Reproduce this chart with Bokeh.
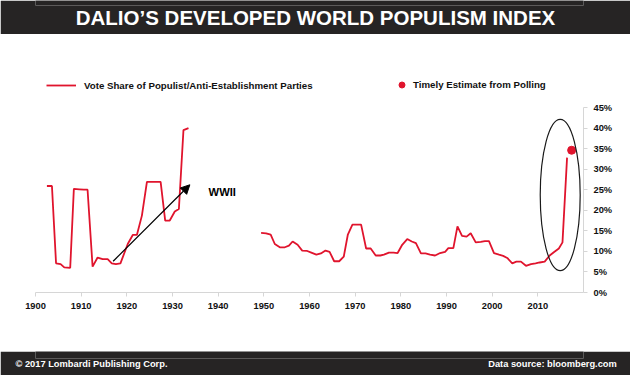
import numpy as np
from bokeh.plotting import figure
from bokeh.layouts import column
from bokeh.models import (Range1d, FixedTicker, PrintfTickFormatter, Legend, LegendItem,
                          Label, Arrow, NormalHead, LinearAxis)
from bokeh.embed import file_html
from bokeh.resources import INLINE

# ---------------- data ----------------
years_early = [1902.5, 1903.6, 1904.5, 1905.5, 1906.3, 1907.6, 1908.4, 1909.6, 1910.6, 1911.4,
               1912.5, 1913.6, 1914.7, 1915.8, 1916.7, 1917.6, 1918.6, 1920.2, 1921.3, 1922.2,
               1923.3, 1924.4, 1927.4, 1928.4, 1929.4, 1930.5, 1931.4, 1932.4, 1933.5]
share_early = [25.9, 25.9, 7.1, 6.9, 6.1, 6.0, 25.2, 25.1, 25.0, 25.0,
               6.3, 8.5, 8.1, 8.1, 7.1, 6.9, 7.1, 11.8, 14.0, 14.0,
               18.7, 26.9, 26.9, 17.5, 17.5, 19.7, 20.3, 39.5, 40.0]

years_post = [1949.4, 1950.5, 1951.5, 1952.4, 1953.5, 1954.6, 1955.5, 1956.3, 1957.4, 1958.4,
              1959.5, 1960.4, 1961.5, 1962.5, 1963.5, 1964.4, 1965.4, 1966.5, 1967.5, 1968.4,
              1969.4, 1971.3, 1972.4, 1973.4, 1974.5, 1975.5, 1976.3, 1977.4, 1978.4, 1979.3,
              1980.3, 1981.4, 1982.4, 1983.3, 1984.4, 1985.4, 1986.4, 1987.5, 1988.6, 1989.7,
              1990.4, 1991.5, 1992.4, 1993.4, 1994.4, 1995.3, 1996.4, 1997.5, 1998.4, 1999.3,
              2000.4, 2001.5, 2002.4, 2003.3, 2004.4, 2005.3, 2006.3, 2007.4, 2008.5, 2009.5,
              2010.4, 2011.5, 2012.6, 2013.5, 2014.6, 2015.4, 2016.4]
share_post = [14.5, 14.4, 14.1, 11.8, 11.0, 11.0, 11.4, 12.4, 11.6, 10.2,
              10.1, 9.7, 9.2, 9.5, 10.2, 9.9, 7.6, 7.6, 8.7, 14.1,
              16.5, 16.5, 10.7, 10.7, 9.0, 9.0, 9.2, 9.7, 9.7, 9.6,
              11.6, 13.0, 12.4, 12.0, 9.5, 9.5, 9.2, 9.0, 9.6, 9.9,
              10.8, 10.8, 16.1, 13.8, 13.6, 14.4, 12.2, 12.3, 12.5, 12.5,
              9.6, 9.2, 8.9, 8.4, 7.1, 7.5, 7.5, 6.5, 6.9, 7.1,
              7.3, 7.5, 9.0, 9.8, 10.7, 12.2, 32.8]

poll_year = [2017.4]
poll_share = [34.6]

x_ticks = [1900, 1910, 1920, 1930, 1940, 1950, 1960, 1970, 1980, 1990, 2000, 2010]
y_ticks = [0, 5, 10, 15, 20, 25, 30, 35, 40, 45]

title_text = "DALIO\u2019S DEVELOPED WORLD POPULISM INDEX"
legend_line_text = "Vote Share of Populist/Anti-Establishment Parties"
legend_dot_text = "Timely Estimate from Polling"
annot_text = "WWII"
footer_left = "\u00a9 2017 Lombardi Publishing Corp."
footer_right = "Data source: bloomberg.com"

# annotation geometry (data units)
arrow_start = (1917.0, 7.6)
arrow_end = (1933.8, 26.2)
annot_pos = (1937.9, 24.4)
ellipse_center = (2014.9, 23.7)
ellipse_size = (8.75, 36.8)

RED = "#e0142d"
DARK = "#262424"
SANS = "Liberation Sans"

W = 630
FL, FR = 35, 47          # frame left / right borders shared by all stacked panels


def band(height, fill, bottom=0):
    fig = figure(width=W, height=height, x_range=Range1d(FL, W - FR), y_range=Range1d(0, 1),
                 x_axis_type=None, y_axis_type=None, toolbar_location=None,
                 output_backend="svg", min_border_left=FL, min_border_right=FR,
                 min_border_top=0, min_border_bottom=bottom)
    fig.background_fill_color = fill
    fig.border_fill_color = fill
    fig.outline_line_color = None
    fig.grid.visible = False
    return fig


def text_axis(fig, ticks, texts, size):
    ax = LinearAxis(ticker=FixedTicker(ticks=ticks),
                    major_label_overrides={tk: tx for tk, tx in zip(ticks, texts)})
    ax.axis_line_color = None
    ax.major_tick_line_color = None
    ax.minor_tick_line_color = None
    ax.major_tick_out = 0
    ax.major_tick_in = 0
    ax.major_label_standoff = 0
    ax.major_label_text_color = "white"
    ax.major_label_text_font = SANS
    ax.major_label_text_font_style = "bold"
    ax.major_label_text_font_size = size
    fig.add_layout(ax, "below")


# ---------------- title band ----------------
t = band(34, DARK, bottom=29)
text_axis(t, [315], [title_text], "20.5px")

# ---------------- legend band ----------------
lg = band(65, "white")
lg.y_range = Range1d(0, 65)
# legend proxies (their data lie outside this band's range, so only the legend shows them)
leg_line = lg.line(x=poll_year, y=poll_share, line_color=RED, line_width=1.8)
leg_dot = lg.scatter(x=poll_year, y=poll_share, size=8, color=RED)
leg_common = dict(padding=0, spacing=0, border_line_color=None, background_fill_alpha=0,
                  label_text_font=SANS, label_text_font_style="bold",
                  label_text_font_size="9.7px", label_text_color="#111111")
lg.add_layout(Legend(items=[LegendItem(label=legend_line_text, renderers=[leg_line])],
                     location=(11, 8), glyph_width=30, glyph_height=12, label_height=12,
                     label_standoff=8, **leg_common))
lg.add_layout(Legend(items=[LegendItem(label=legend_dot_text, renderers=[leg_dot])],
                     location=(359, 7), glyph_width=15, glyph_height=15, label_height=15,
                     label_standoff=4, **leg_common))

# ---------------- main chart ----------------
p = figure(width=W, height=252, x_range=Range1d(1900, 2020), y_range=Range1d(0, 45),
           toolbar_location=None, output_backend="svg", y_axis_location="right",
           min_border_left=FL, min_border_right=FR, min_border_top=8, min_border_bottom=59)
p.outline_line_color = None
p.grid.visible = False

x_all = years_early + [np.nan] + years_post
y_all = share_early + [np.nan] + share_post
p.line(x_all, y_all, line_color=RED, line_width=1.8)
p.scatter(poll_year, poll_share, size=8, color=RED)

p.ellipse(x=[ellipse_center[0]], y=[ellipse_center[1]], width=ellipse_size[0],
          height=ellipse_size[1], fill_color=None, line_color="#1a1a1a", line_width=1.2)

p.add_layout(Arrow(end=NormalHead(size=9, fill_color="black", line_color="black"),
                   x_start=arrow_start[0], y_start=arrow_start[1],
                   x_end=arrow_end[0], y_end=arrow_end[1],
                   line_color="black", line_width=1.2))
p.add_layout(Label(x=annot_pos[0], y=annot_pos[1], text=annot_text, text_font=SANS,
                   text_font_style="bold", text_font_size="11.2px", text_color="black",
                   text_baseline="alphabetic"))

for ax in (p.xaxis[0], p.yaxis[0]):
    ax.axis_line_color = "#d6d6d6"
    ax.major_tick_line_color = "#d6d6d6"
    ax.major_tick_out = 4
    ax.major_tick_in = 0
    ax.minor_tick_line_color = None
    ax.major_label_text_font = SANS
    ax.major_label_text_font_style = "bold"
    ax.major_label_text_font_size = "9.3px"
    ax.major_label_text_color = "#111111"

p.xaxis.ticker = FixedTicker(ticks=x_ticks)
p.xaxis.major_label_standoff = 6
p.yaxis.ticker = FixedTicker(ticks=y_ticks)
p.yaxis.formatter = PrintfTickFormatter(format="%d%%")
p.yaxis.major_label_standoff = 6

# ---------------- footer band ----------------
f = band(24, DARK, bottom=17)
text_axis(f, [91, 552], [footer_left, footer_right], "9.3px")

layout = column(t, lg, p, f, spacing=0)
open("out.html", "w").write(file_html(layout, INLINE))
